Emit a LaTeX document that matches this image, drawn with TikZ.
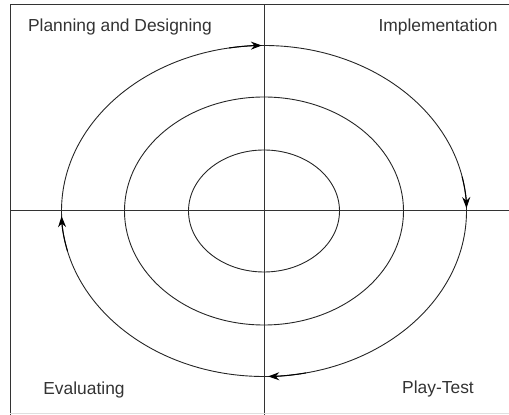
\documentclass[tikz,border=0pt]{standalone}
\usepackage{fontspec}
\setmainfont{Liberation Sans}
\usetikzlibrary{calc,positioning,arrows.meta}

\begin{document}
\begin{tikzpicture}[x=1pt,y=1pt,
  axis/.style={line width=1pt,black!80},
  ring/.style={line width=0.9pt,black!85},
  flow/.style={line width=1pt,black,-{Stealth[length=11pt,width=8pt]}},
  phase/.style={font=\fontsize{17.4}{19}\selectfont,text=black!80,inner sep=0pt}]

\useasboundingbox (0,0) rectangle (509,415);

\coordinate (c) at (264,204);

% frame and axes
\draw[axis] (10,0) -- (10,410) -- (509,410);
\draw[axis] (264,0) -- (264,410);
\draw[axis] (10,204) -- (509,204);
\draw[gray!25, line width=0.6pt] (10,1.5) -- (509,1.5);

% rings
\foreach \rx/\ry in {202.5/165.5, 139.5/114, 75.5/61}
  \draw[ring] (c) ellipse[x radius=\rx, y radius=\ry];

% clockwise arrows on the outer ring
\draw[flow] ($(c)+(100:202.5 and 165.5)$) arc[start angle=100, end angle=90.6, x radius=202.5, y radius=165.5];
\draw[flow] ($(c)+(12:202.5 and 165.5)$) arc[start angle=12, end angle=1, x radius=202.5, y radius=165.5];
\draw[flow] ($(c)+(282:202.5 and 165.5)$) arc[start angle=282, end angle=271.2, x radius=202.5, y radius=165.5];
\draw[flow] ($(c)+(194:202.5 and 165.5)$) arc[start angle=194, end angle=181.8, x radius=202.5, y radius=165.5];

% phase labels
\node[phase] (plan) at (120,388) {Planning and Designing};
\node[phase] (impl) at (438,388) {Implementation};
\node[phase] (eval) at (84,25) {Evaluating};
\node[phase] (test) at (438,26) {Play-Test};

\end{tikzpicture}
\end{document}
